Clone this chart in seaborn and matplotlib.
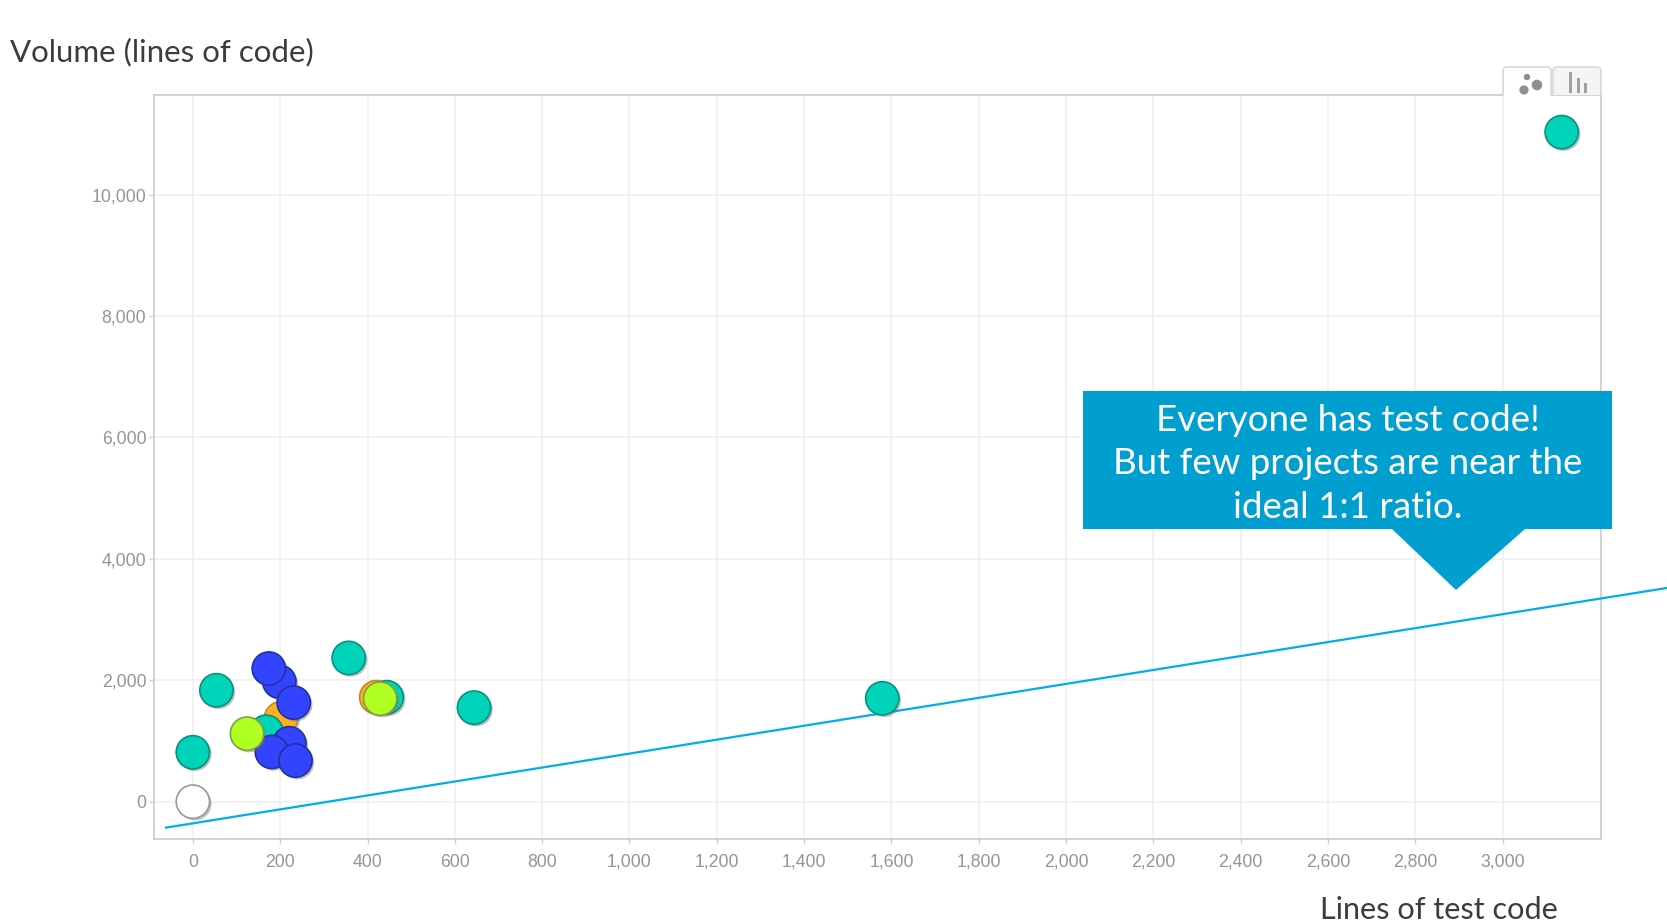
import matplotlib
matplotlib.use("Agg")
import matplotlib.pyplot as plt
import matplotlib.patheffects as pe
from matplotlib.patches import Polygon, Ellipse, Rectangle, PathPatch
from matplotlib.path import Path
from matplotlib.ticker import FuncFormatter
import pandas as pd
import seaborn as sns

# Projects grouped by colour, drawn back to front
orange_x = [202, 420]
orange_y = [1374, 1720]
teal_x = [0, 54, 357, 444, 644, 168, 1579, 3135]
teal_y = [813, 1835, 2367, 1720, 1549, 1153, 1702, 11028]
blue_x = [198, 174, 231, 221, 181, 235]
blue_y = [1977, 2192, 1631, 962, 819, 676]
lime_x = [124, 429]
lime_y = [1120, 1697]
white_x = [0]
white_y = [0]

# Reference line running past the plot area
ratio_x = [-62, 3376]
ratio_y = [-428, 3520]

x_ticks = list(range(0, 3001, 200))
y_ticks = list(range(0, 10001, 2000))
x_label = "Lines of test code"
y_label = "Volume (lines of code)"
callout_lines = ["Everyone has test code!", "But few projects are near the", "ideal 1:1 ratio."]

W, H = 1667, 921
sns.set_theme(style="white")
plt.rcParams["font.family"] = ["Liberation Sans", "DejaVu Sans"]

fig = plt.figure(figsize=(W / 100, H / 100), dpi=100, facecolor="white")


def fx(px):
    return px / W


def fy(py):
    return 1 - py / H


ax = fig.add_axes([fx(154), fy(839), fx(1601 - 154), (839 - 95) / H])
ax.set_facecolor("white")
ax.set_xlim(-89, 3225)
ax.set_ylim(-615, 11640)
ax.set_xticks(x_ticks)
ax.set_yticks(y_ticks)
ax.grid(True, color="#efefef", linewidth=1.1)
ax.set_axisbelow(True)
for side in ax.spines.values():
    side.set_color("#cfcfcf")
    side.set_linewidth(1.3)

thousands = FuncFormatter(lambda v, _: f"{int(v):,}")
ax.xaxis.set_major_formatter(thousands)
ax.yaxis.set_major_formatter(thousands)
ax.tick_params(axis="both", bottom=True, left=True, labelsize=12.7, labelcolor="#959595",
               length=3.5, width=1, color="#cfcfcf", direction="out", pad=2)
ax.tick_params(axis="x", pad=7)

shadow = [pe.SimplePatchShadow(offset=(1.5, -1.5), shadow_rgbFace="#666666", alpha=0.4), pe.Normal()]
groups = [
    (orange_x, orange_y, "#ffb020", "#b98a30"),
    (teal_x, teal_y, "#00d4b8", "#0b8f80"),
    (blue_x, blue_y, "#3344ff", "#26309a"),
    (lime_x, lime_y, "#b0ff22", "#80a040"),
    (white_x, white_y, "#ffffff", "#9a9a9a"),
]
for xs, ys, face, edge in groups:
    frame = pd.DataFrame({"test": xs, "volume": ys})
    sns.scatterplot(data=frame, x="test", y="volume", ax=ax, s=575, color=face,
                    edgecolor=edge, linewidth=1.2, clip_on=False, zorder=4,
                    path_effects=shadow, legend=False)
ax.set_xlabel("")
ax.set_ylabel("")

line_frame = pd.DataFrame({"test": ratio_x, "volume": ratio_y})
sns.lineplot(data=line_frame, x="test", y="volume", ax=ax, color="#00aee6", linewidth=1.6,
             clip_on=False, zorder=3, estimator=None, sort=False)
ax.set_xlabel("")
ax.set_ylabel("")

# Axis captions in the humanist face used for the surrounding slide
fig.text(fx(10), fy(52), y_label, fontsize=22.5, family="Lato", color="#3c3c3c", va="center", ha="left")
fig.text(fx(1320), fy(910), x_label, fontsize=22.1, family="Lato", color="#3c3c3c", va="center", ha="left")

# Callout box with its pointer
callout = Polygon(
    [(fx(1083), fy(391)), (fx(1612), fy(391)), (fx(1612), fy(529)), (fx(1525), fy(529)),
     (fx(1456), fy(590)), (fx(1392), fy(529)), (fx(1083), fy(529))],
    closed=True, transform=fig.transFigure, facecolor="#009fd0", edgecolor="none", zorder=6,
)
fig.add_artist(callout)
for line, py in zip(callout_lines, [420, 463, 508]):
    fig.text(fx(1348), fy(py), line, fontsize=26.4, family="Lato", color="white",
             ha="center", va="center", zorder=7)


# Chart-type tabs at the top right of the plot area
def tab(left, right, top, bottom, face, z):
    r = 4
    verts = [(left, bottom), (left, top + r), (left, top), (left + r, top), (right - r, top),
             (right, top), (right, top + r), (right, bottom)]
    codes = [Path.MOVETO, Path.LINETO, Path.CURVE3, Path.CURVE3, Path.LINETO, Path.CURVE3, Path.CURVE3, Path.LINETO]
    path = Path([(fx(a), fy(b)) for a, b in verts], codes)
    fig.add_artist(PathPatch(path, transform=fig.transFigure, facecolor=face, edgecolor="#d8d8d8",
                             linewidth=1.2, zorder=z))


tab(1553, 1601, 67, 95, "#f4f4f4", 5)
tab(1503, 1551, 67, 96, "#ffffff", 5)
for cx, cy, rad in [(1527, 77, 3.2), (1537, 85, 5.3), (1524, 90, 4.6)]:
    fig.add_artist(Ellipse((fx(cx), fy(cy)), 2 * rad / W, 2 * rad / H, transform=fig.transFigure,
                           facecolor="#8f8f8f", edgecolor="none", zorder=6))
for left, top in [(1569, 72), (1577, 78), (1584, 83)]:
    fig.add_artist(Rectangle((fx(left), fy(93)), 2.5 / W, (93 - top) / H, transform=fig.transFigure,
                             facecolor="#a0a0a0", edgecolor="none", zorder=6))

fig.savefig("out.png", dpi=100, facecolor="white")
